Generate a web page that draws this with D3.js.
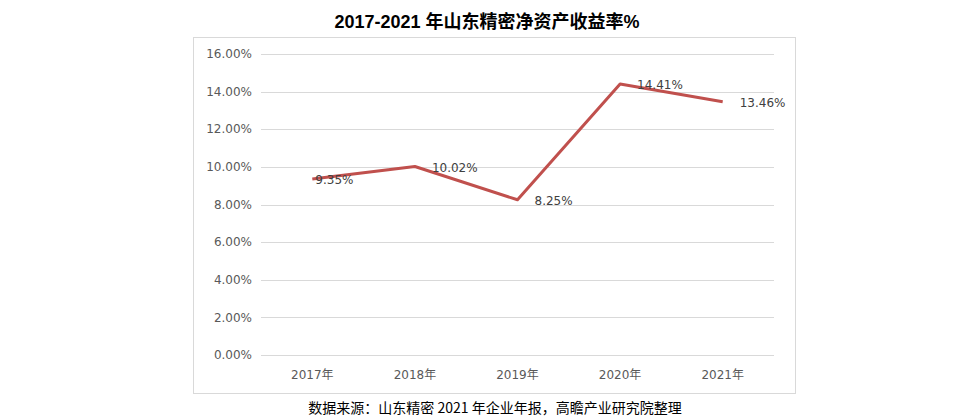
<!DOCTYPE html>
<html><head><meta charset="utf-8">
<script src="https://cdn.jsdelivr.net/npm/d3@7"></script>
<style>body{margin:0;background:#fff}text{font-family:"DejaVu Sans","Noto Sans CJK SC",sans-serif}</style>
</head><body><svg id="c" width="975" height="420"></svg>
<script>
const years = ["2017年","2018年","2019年","2020年","2021年"];
const roe = [9.35, 10.02, 8.25, 14.41, 13.46];
const yTicks = [0,2,4,6,8,10,12,14,16];
const svg = d3.select("#c");
svg.append("rect").attr("x",193.5).attr("y",37.5).attr("width",602).attr("height",356).attr("fill","none").attr("stroke","#d9d9d9");
const x = d3.scaleBand().domain(years).range([261,774]);
const y = d3.scaleLinear().domain([0,16]).range([355,54]);
svg.selectAll(".g").data(yTicks).join("line").attr("x1",261).attr("x2",774)
 .attr("y1",d=>Math.round(y(d))+0.5).attr("y2",d=>Math.round(y(d))+0.5).attr("stroke","#d9d9d9");
svg.selectAll(".yl").data(yTicks).join("text").attr("x",252).attr("y",d=>y(d)).attr("dy","0.35em")
 .attr("text-anchor","end").attr("font-size",12).attr("fill","#595959").text(d=>d.toFixed(2)+"%");
svg.selectAll(".xl").data(years).join("text").attr("x",d=>x(d)+x.bandwidth()/2).attr("y",379)
 .attr("text-anchor","middle").attr("font-size",12).attr("fill","#595959").text(d=>d);
const pts = years.map((d,i)=>[x(d)+x.bandwidth()/2, y(roe[i])]);
svg.append("path").attr("d",d3.line()(pts)).attr("fill","none").attr("stroke","#c0504d").attr("stroke-width",3).attr("stroke-linejoin","round");
svg.selectAll(".dl").data(roe).join("text").attr("x",(d,i)=>pts[i][0]+(i===0?3:17)).attr("y",(d,i)=>pts[i][1]+1).attr("dy","0.35em")
 .attr("font-size",12).attr("fill","#404040").text(d=>d.toFixed(2)+"%");
svg.append("text").attr("x",487).attr("y",28).attr("text-anchor","middle").attr("font-size",18).attr("font-weight","bold").attr("fill","#000").style("font-family","'Liberation Sans','Noto Sans CJK SC',sans-serif").text("2017-2021 年山东精密净资产收益率%");
svg.append("text").attr("x",495).attr("y",413).attr("text-anchor","middle").attr("font-size",14).attr("fill","#000").style("font-family","'Noto Sans CJK SC',sans-serif").text("数据来源：山东精密 2021 年企业年报，高瞻产业研究院整理");
</script></body></html>
